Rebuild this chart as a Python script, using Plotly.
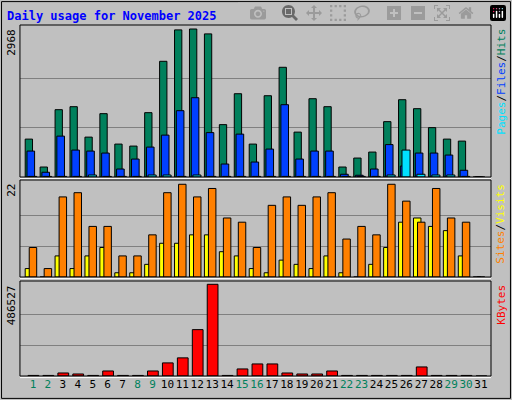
import plotly.graph_objects as go
from plotly.subplots import make_subplots

days = list(range(1, 32))
weekend = [1, 2, 8, 9, 15, 16, 22, 23, 29, 30]

hits = [760, 200, 1350, 1410, 800, 1270, 660, 620, 1290, 2320, 2950, 2968, 2870, 1050, 1670,
        660, 1630, 2200, 900, 1570, 1410, 200, 380, 500, 1110, 1550, 1370, 990, 760, 720, 0]
files = [520, 95, 820, 540, 520, 480, 160, 360, 600, 840, 1330, 1590, 890, 260, 860,
         300, 560, 1450, 360, 520, 520, 55, 35, 160, 650, 220, 480, 480, 440, 135, 0]
pages = [12, 12, 12, 12, 40, 12, 12, 12, 40, 40, 12, 40, 12, 12, 12,
         12, 12, 12, 12, 12, 12, 12, 12, 12, 40, 540, 55, 40, 40, 12, 0]
sites = [2, 0, 5, 2, 5, 7, 1, 1, 3, 8, 8, 10, 10, 6, 5,
         2, 1, 4, 3, 2, 5, 1, 0, 3, 7, 13, 14, 12, 11, 5, 0]
visits = [7, 2, 19, 20, 12, 12, 5, 5, 10, 20, 22, 19, 21, 14, 13,
          7, 17, 19, 17, 19, 20, 9, 12, 10, 22, 18, 13, 21, 14, 13, 0]
kbytes = [3000, 3000, 16000, 10700, 3000, 26700, 3000, 3000, 26700, 69500, 96200, 246000, 486527, 3000, 37400,
          64000, 64000, 16000, 10700, 10700, 26700, 3000, 3000, 3000, 3000, 3000, 48000, 3000, 3000, 3000, 0]

BG = "#C0C0C0"
FONT = "DejaVu Sans Mono"

fig = make_subplots(rows=3, cols=1, shared_xaxes=True)

def bars(vals, color, offset, width, row):
    fig.add_trace(go.Bar(x=days, y=vals, offset=offset, width=width,
                         marker=dict(color=color, line=dict(color="black", width=1)),
                         showlegend=False, hoverinfo="skip"), row=row, col=1)

bars(hits, "#00805C", -0.52, 0.49, 1)
bars(files, "#0040FF", -0.40, 0.51, 1)
bars(pages, "#00E0FF", -0.29, 0.54, 1)
bars(sites, "#FFFF00", -0.52, 0.50, 2)
bars(visits, "#FF8000", -0.25, 0.50, 2)
bars(kbytes, "#FF0000", -0.33, 0.72, 3)

doms = [[0.5575, 0.9375], [0.3075, 0.55], [0.06, 0.2975]]
maxes = [max(hits), max(visits), max(kbytes)]
tops = [maxes[0] * 1.027, maxes[1] * 1.046, maxes[2] * 1.036]
for i in range(3):
    fig.update_yaxes(domain=doms[i], range=[0, tops[i]], tickvals=[maxes[i] / 3, maxes[i] * 2 / 3],
                     showticklabels=False, gridcolor="#808080", gridwidth=1, zeroline=False,
                     showline=False, fixedrange=True, row=i + 1, col=1)

ticktext = [f'<span style="color:#00805C">{d}</span>' if d in weekend else str(d) for d in days]
fig.update_xaxes(range=[0.13, 31.67], domain=[0.039, 0.959], showgrid=False, zeroline=False,
                 showline=False, ticks="", tickvals=days, ticktext=ticktext, tickangle=0)
fig.update_xaxes(showticklabels=False, row=1, col=1)
fig.update_xaxes(showticklabels=False, row=2, col=1)
fig.update_xaxes(showticklabels=True, tickfont=dict(family=FONT, size=11, color="black"), row=3, col=1)

# panel frames
shapes = [dict(type="rect", xref="paper", yref="paper", x0=0.003, x1=0.997, y0=0.004, y1=0.996,
               line=dict(color="black", width=1))]
for d in doms:
    shapes.append(dict(type="rect", xref="paper", yref="paper", x0=0.039, x1=0.959, y0=d[0], y1=d[1],
                       line=dict(color="black", width=1)))
    shapes.append(dict(type="line", xref="paper", yref="paper", x0=0.039, x1=0.959, y0=d[0] - 0.004, y1=d[0] - 0.004,
                       line=dict(color="white", width=1)))

ann = [dict(text="<b>Daily usage for November 2025</b>", x=5 / 512, y=393 / 400, xref="paper", yref="paper",
            showarrow=False, xanchor="left", yanchor="top", font=dict(family=FONT, size=12, color="#0000FF"))]
labels = ["2968", "22", "486527"]
for d, lab in zip(doms, labels):
    ann.append(dict(text=lab, x=0.022, y=d[1] - 0.005, xref="paper", yref="paper", showarrow=False,
                    textangle=-90, xanchor="center", yanchor="top", font=dict(family=FONT, size=11, color="black")))
side = ['<span style="color:#00E0FF">Pages</span><span style="color:black">/</span>'
        '<span style="color:#0040FF">Files</span><span style="color:black">/</span>'
        '<span style="color:#00805C">Hits</span>',
        '<span style="color:#FF8000">Sites</span><span style="color:black">/</span>'
        '<span style="color:#FFFF00">Visits</span>',
        '<span style="color:#FF0000">KBytes</span>']
for d, lab in zip(doms, side):
    ann.append(dict(text=lab, x=0.978, y=d[1] - 0.005, xref="paper", yref="paper", showarrow=False,
                    textangle=-90, xanchor="center", yanchor="top", font=dict(family=FONT, size=11)))

fig.update_layout(width=512, height=400, margin=dict(l=0, r=0, t=0, b=0), barmode="overlay",
                  paper_bgcolor=BG, plot_bgcolor=BG, shapes=shapes, annotations=ann,
                  font=dict(family=FONT, size=11))
fig.write_html("out.html", post_script="document.body.style.margin='0';document.body.style.overflow='hidden';")
